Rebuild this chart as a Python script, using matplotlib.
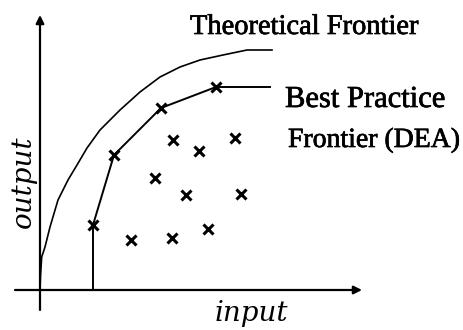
import matplotlib
matplotlib.use("Agg")
import matplotlib.pyplot as plt
import matplotlib.patheffects as pe

# Theoretical frontier (input, output)
theo_input = [0, 0.5, 1.7, 5, 10, 18, 28, 37, 47, 60, 80, 100, 120, 140, 160, 183, 207, 232]
theo_output = [0, 14, 33, 43, 63, 90, 110, 125, 142, 160, 180, 198, 213, 223, 230, 235, 240, 240]

# Best practice (DEA) frontier: efficient units
front_input = [53, 74, 121, 176]
front_output = [65, 135, 182, 203]
front_end_input = 230

# Inefficient units
pts_input = [133, 159, 195, 115, 146, 201, 91, 132, 168]
pts_output = [150, 139, 152, 112, 95, 96, 50, 52, 61]

fig = plt.figure(figsize=(4.64, 3.30), dpi=100)
ax = fig.add_axes([0, 0, 1, 1])
ax.set_xlim(-40, 424)
ax.set_ylim(-40, 290)
ax.axis("off")

# axes arrows
ax.annotate("", xy=(0, 275), xytext=(0, -20),
            arrowprops=dict(arrowstyle="-|>", lw=1.6, color="black", mutation_scale=12, shrinkA=0, shrinkB=0))
ax.annotate("", xy=(322, 0), xytext=(-25, 0),
            arrowprops=dict(arrowstyle="-|>", lw=1.6, color="black", mutation_scale=12, shrinkA=0, shrinkB=0))

# theoretical frontier
ax.plot(theo_input, theo_output, color="black", lw=1.2)

# DEA frontier
fx = [front_input[0]] + front_input + [front_end_input]
fy = [0] + front_output + [front_output[-1]]
ax.plot(fx, fy, color="black", lw=1.4)
ax.plot(front_input, front_output, ls="none", marker="x", ms=7, mew=2.2, color="black")

# inefficient units
ax.plot(pts_input, pts_output, ls="none", marker="x", ms=7, mew=2.2, color="black")

serif = ["Liberation Serif", "DejaVu Serif"]
bold = [pe.withStroke(linewidth=0.5, foreground="black")]
ax.text(150, 256, "Theoretical Frontier", family=serif, fontsize=20.5, ha="left",
        va="baseline", path_effects=bold)
ax.text(245, 183, "Best Practice", family=serif, fontsize=22, ha="left",
        va="baseline", path_effects=bold)
ax.text(248, 143, "Frontier (DEA)", family=serif, fontsize=20, ha="left",
        va="baseline", path_effects=bold)
ax.text(-17, 108, "output", family="DejaVu Serif", style="italic", fontsize=20,
        rotation=90, ha="center", va="center")
ax.text(211, -31, "input", family="DejaVu Serif", style="italic", fontsize=20,
        ha="center", va="baseline")

fig.savefig("out.png", dpi=100)
